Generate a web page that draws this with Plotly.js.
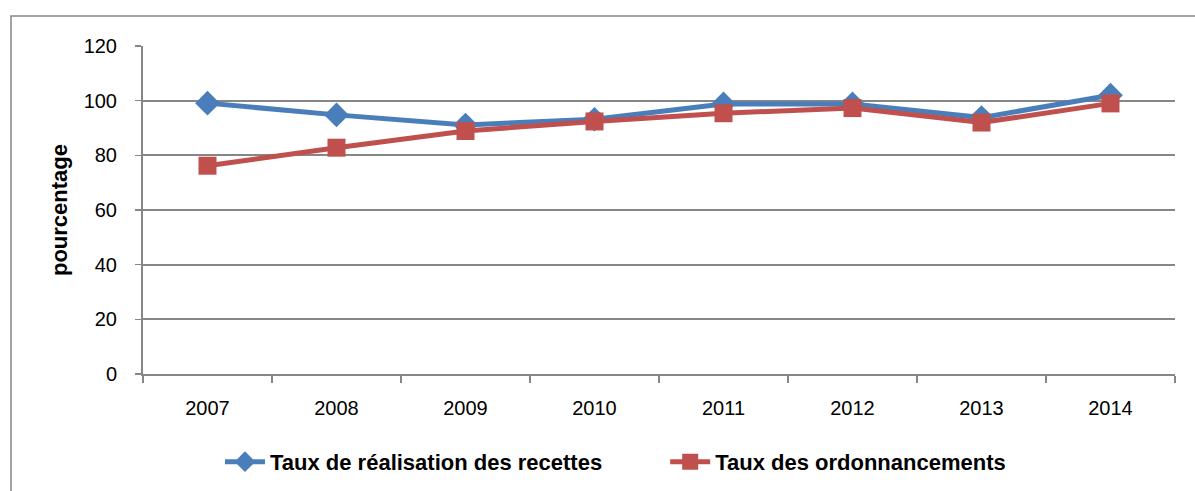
<!DOCTYPE html>
<html>
<head>
<meta charset="utf-8">
<script src="https://cdn.plot.ly/plotly-3.0.1.min.js"></script>
<style>html,body{margin:0;padding:0;background:#fff;}#chart{width:1195px;height:491px;}</style>
</head>
<body>
<div id="chart"></div>
<script>
const years = ["2007","2008","2009","2010","2011","2012","2013","2014"];
const recettes = [99.1, 94.8, 91.1, 93.2, 98.8, 98.8, 93.8, 102.0];
const ordonnancements = [76.2, 82.8, 88.9, 92.4, 95.4, 97.3, 92.0, 99.0];
const seriesNames = ["Taux de réalisation des recettes", "Taux des ordonnancements"];
const yTicks = [0, 20, 40, 60, 80, 100, 120];

const FONT = "'Liberation Sans', Arial, sans-serif";

const traces = [
  {x: years, y: recettes, name: seriesNames[0], type: 'scatter', mode: 'lines+markers', legend: 'legend',
   line: {color: '#4A7EBB', width: 5}, marker: {symbol: 'diamond', size: 19, color: '#4A7EBB'}},
  {x: years, y: ordonnancements, name: seriesNames[1], type: 'scatter', mode: 'lines+markers', legend: 'legend2',
   line: {color: '#C0504D', width: 5}, marker: {symbol: 'square', size: 18, color: '#C0504D'}}
];

const legendFont = {family: FONT, size: 22, color: '#000', weight: 'bold'};

const layout = {
  width: 1195, height: 491,
  margin: {l: 143, r: 20, t: 46, b: 117, autoexpand: false},
  paper_bgcolor: '#fff', plot_bgcolor: '#fff',
  font: {family: FONT, color: '#000', size: 20},
  showlegend: true,
  legend: {orientation: 'h', x: 0.0746, xanchor: 'left', y: -0.268, yanchor: 'middle',
           font: legendFont, itemwidth: 40, bgcolor: 'rgba(0,0,0,0)'},
  legend2: {orientation: 'h', x: 0.506, xanchor: 'left', y: -0.268, yanchor: 'middle',
           font: legendFont, itemwidth: 40, bgcolor: 'rgba(0,0,0,0)'},
  xaxis: {type: 'category', range: [-0.5, 7.5], showgrid: false, showline: true,
          linecolor: '#868686', linewidth: 2, ticks: 'outside', tickson: 'boundaries',
          ticklen: 7, tickcolor: '#868686', tickwidth: 2, ticklabelstandoff: 15,
          tickfont: {family: FONT, size: 20}, fixedrange: true},
  yaxis: {range: [0, 120], tickvals: yTicks, showgrid: true, gridcolor: '#868686', gridwidth: 2,
          showline: true, linecolor: '#868686', linewidth: 2, ticks: 'outside', ticklen: 6,
          tickcolor: '#868686', tickwidth: 1.5, zeroline: false, ticklabelstandoff: 14,
          tickfont: {family: FONT, size: 20},
          title: {text: 'pourcentage', font: {family: FONT, size: 22, weight: 'bold'}, standoff: 10}},
  shapes: [
    {type: 'rect', xref: 'paper', yref: 'paper', x0: -0.1279, x1: 1.05, y0: -0.5, y1: 1.0915,
     line: {color: '#868686', width: 1.5}, fillcolor: 'rgba(0,0,0,0)', layer: 'below'}
  ]
};

Plotly.newPlot('chart', traces, layout, {displayModeBar: false, staticPlot: true});
</script>
</body>
</html>
